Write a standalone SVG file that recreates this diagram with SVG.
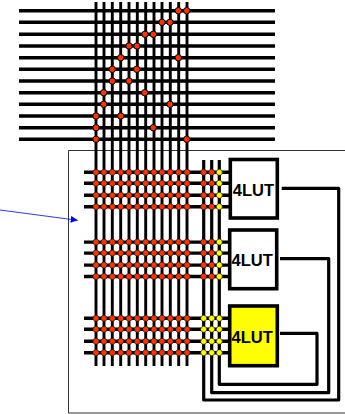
<svg xmlns="http://www.w3.org/2000/svg" width="345" height="414" viewBox="0 0 345 414">
<style>
.w{fill:none;stroke:#000;stroke-width:3.4}
.v{fill:none;stroke:#000;stroke-width:2.9}
.o{fill:none;stroke:#000;stroke-width:3.2;stroke-linejoin:round}
.r{fill:#ff3300;stroke:#111;stroke-width:.6}
.t{fill:#ff3300;stroke:#000;stroke-width:1}
.y{fill:#ffff00;stroke:#111;stroke-width:.6}
.b{fill:#fff;stroke:#000;stroke-width:3.6}
.l{font:bold 16.5px "Liberation Sans",Arial,sans-serif;fill:#000}
</style>
<defs>
<marker id="ah" markerUnits="userSpaceOnUse" markerWidth="8" markerHeight="7" refX="7" refY="3.5" orient="auto"><path d="M0 0L7 3.5L0 7Z" fill="#0000ff"/></marker>
<g id="hl"><path class="w" d="M84 172.3H230M84 183.3H230M84 195.3H230M84 206.7H230"/></g>
<g id="rrow">
<circle class="r" cx="96" cy="0" r="3"/><circle class="r" cx="104" cy="0" r="3"/><circle class="r" cx="112.3" cy="0" r="3"/><circle class="r" cx="120.7" cy="0" r="3"/><circle class="r" cx="129" cy="0" r="3"/><circle class="r" cx="137.3" cy="0" r="3"/><circle class="r" cx="145.7" cy="0" r="3"/><circle class="r" cx="154" cy="0" r="3"/><circle class="r" cx="162" cy="0" r="3"/><circle class="r" cx="170.3" cy="0" r="3"/><circle class="r" cx="178.7" cy="0" r="3"/><circle class="r" cx="187" cy="0" r="3"/>
</g>
<g id="rows"><use href="#rrow" y="172.3"/><use href="#rrow" y="183.3"/><use href="#rrow" y="195.3"/><use href="#rrow" y="206.7"/></g>
<g id="rr"><circle class="r" cx="203.7" cy="0" r="3"/><circle class="r" cx="211.7" cy="0" r="3"/><circle class="y" cx="219.3" cy="0" r="3"/></g>
<g id="yy"><circle class="y" cx="203.7" cy="0" r="3"/><circle class="y" cx="211.7" cy="0" r="3"/><circle class="y" cx="219.3" cy="0" r="3"/></g>
<g id="rrs"><use href="#rr" y="172.3"/><use href="#rr" y="183.3"/><use href="#rr" y="195.3"/><use href="#rr" y="206.7"/></g>
<g id="yys"><use href="#yy" y="172.3"/><use href="#yy" y="183.3"/><use href="#yy" y="195.3"/><use href="#yy" y="206.7"/></g>
</defs>
<rect width="345" height="414" fill="#fff"/>
<path id="frame" d="M345 150.5H68.5V413H345" fill="none" stroke="#333" stroke-width="1"/>
<g id="connectors">
<path class="w" d="M19 10.7H275M19 22.3H275M19 34.3H275M19 46H275M19 57.7H275M19 69.3H275M19 81H275M19 92.7H275M19 104.3H275M19 116H275M19 127.7H275M19 139.3H275"/>
<path class="v" d="M96 2V366M104 2V366M112.3 2V366M120.7 2V366M129 2V366M137.3 2V366M145.7 2V366M154 2V366M162 2V366M170.3 2V366M178.7 2V366M187 2V366"/>
<use href="#hl"/><use href="#hl" y="69.8"/><use href="#hl" y="146"/>
<path class="o" d="M281.7 188.3H338.7V400H203.7V160"/>
<path class="o" d="M280 258.7H328.7V392.7H211.7V160"/>
<path class="o" d="M280 333.3H317V384.3H219.3V160"/>
<path d="M0 210L77.7 220.3" fill="none" stroke="#0000ff" stroke-width=".8" marker-end="url(#ah)"/>
</g>
<g id="top-switches">
<circle class="t" cx="178.3" cy="10.7" r="3.2"/><circle class="t" cx="186.7" cy="10.7" r="3.2"/>
<circle class="t" cx="162" cy="22.3" r="3.2"/><circle class="t" cx="170" cy="22.3" r="3.2"/>
<circle class="t" cx="145" cy="34.3" r="3.2"/><circle class="t" cx="153.3" cy="34.3" r="3.2"/>
<circle class="t" cx="129" cy="46" r="3.2"/><circle class="t" cx="137" cy="46" r="3.2"/>
<circle class="t" cx="120.7" cy="57.7" r="3.2"/><circle class="t" cx="178.3" cy="57.7" r="3.2"/>
<circle class="t" cx="112.3" cy="69.3" r="3.2"/><circle class="t" cx="136.7" cy="69.3" r="3.2"/>
<circle class="t" cx="112.3" cy="81" r="3.2"/><circle class="t" cx="129" cy="81" r="3.2"/>
<circle class="t" cx="103.7" cy="92.7" r="3.2"/><circle class="t" cx="144.7" cy="92.7" r="3.2"/>
<circle class="t" cx="103.7" cy="104.3" r="3.2"/><circle class="t" cx="170" cy="104.3" r="3.2"/>
<circle class="t" cx="96" cy="116" r="3.2"/><circle class="t" cx="120.7" cy="116" r="3.2"/>
<circle class="t" cx="96" cy="127.7" r="3.2"/><circle class="t" cx="153.3" cy="127.7" r="3.2"/>
<circle class="t" cx="96" cy="139.3" r="3.2"/><circle class="t" cx="186.7" cy="139.3" r="3.2"/>
</g>
<g id="block-1-switches"><use href="#rows"/><use href="#rrs"/></g>
<g id="block-2-switches"><use href="#rows" y="69.8"/><use href="#rrs" y="69.8"/></g>
<g id="block-3-switches"><use href="#rows" y="146"/><use href="#yys" y="146"/></g>
<g id="lut1"><rect class="b" x="230.3" y="159.5" width="47" height="58.5"/><text class="l" x="232.8" y="195.7">4LUT</text></g>
<g id="lut2"><rect class="b" x="229.7" y="230" width="47" height="58.7"/><text class="l" x="231.5" y="265.7">4LUT</text></g>
<g id="lut3"><rect class="b" x="229.7" y="306" width="47.6" height="59.7" style="fill:#ffff00"/><text class="l" x="231.5" y="343.3">4LUT</text></g>
</svg>
